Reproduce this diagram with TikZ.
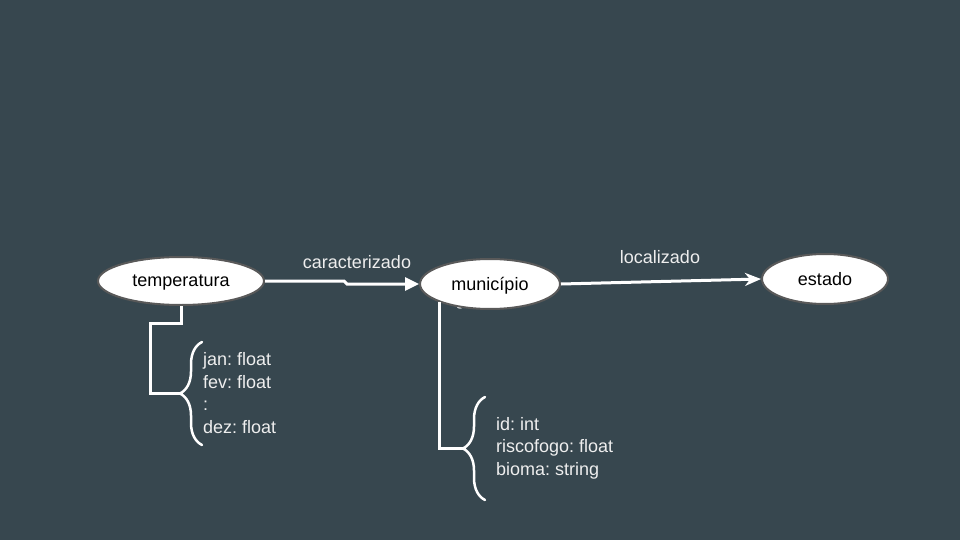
\documentclass[tikz,border=0pt]{standalone}
\usepackage{fontspec}
\setmainfont{Liberation Sans}
\usetikzlibrary{shapes.geometric, arrows.meta, decorations.pathreplacing}
\definecolor{slatebg}{RGB}{55, 71, 79}
\definecolor{rimgray}{RGB}{89, 89, 89}
\definecolor{labelwhite}{RGB}{238, 238, 238}
\frenchspacing

\begin{document}
\begin{tikzpicture}[x=1pt, y=-1pt,
  entity/.style={ellipse, draw=rimgray, line width=2pt, fill=white, inner sep=0pt, text depth=0pt, font=\fontsize{18}{22}\selectfont},
  link/.style={draw=white, line width=3pt},
  rel/.style={text=labelwhite, font=\fontsize{18}{22}\selectfont},
  attrs/.style={text=labelwhite, align=left, inner sep=0pt, anchor=west, font=\fontsize{18}{22.5}\selectfont},
  curly/.style={draw=white, line width=2.5pt, line cap=round, decorate, decoration={brace, amplitude=22pt}}]
  \useasboundingbox[fill=slatebg] (0,0) rectangle (960,540);

  % Entities
  \foreach \x in {460, 480, 498} \fill[white] (\x,307) ellipse (3pt and 1.6pt);
  \node[entity, minimum width=166pt, minimum height=48pt] (temp) at (181,281) {temperatura};
  \node[entity, minimum width=140pt, minimum height=50pt] (mun) at (490,284) {município};
  \node[entity, minimum width=126pt, minimum height=50pt] (est) at (825,279) {estado};

  % Relations
  \draw[link, -{Triangle[length=14pt, width=13pt]}] (temp.east) -- ++(79,0) -- ++(3,3) -- (mun.west);
  \node[rel] (carac) at (357,262) {caracterizado};
  \draw[link, -{Stealth[length=16pt, width=13pt, inset=5pt]}] (mun.east) -- (est.west);
  \node[rel] (local) at (660,257) {localizado};

  % Attributes
  \coordinate (tbrace) at (180,393);
  \draw[curly] (202,445) -- (202,342);
  \draw[link] (temp.south) |- ++(-31,17) |- (tbrace);
  \node[attrs] (tattr) at (203,393) {jan: float\\fev: float\\:\\dez: float};

  \coordinate (mbrace) at (463,448);
  \draw[curly] (485,500) -- (485,397);
  \draw[link] (mun.200) |- (mbrace);
  \node[attrs] (mattr) at (496,448) {id: int\\riscofogo: float\\bioma: string};
\end{tikzpicture}
\end{document}
